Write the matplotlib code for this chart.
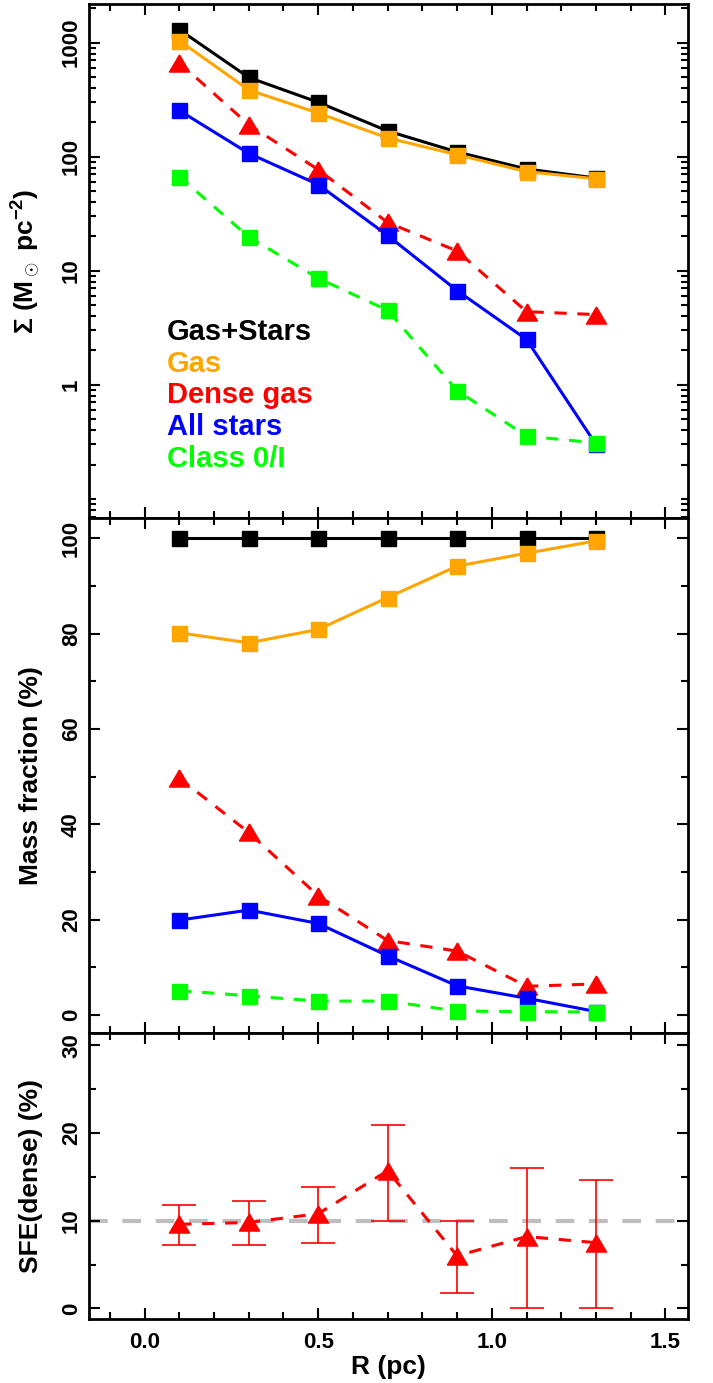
import numpy as np
import matplotlib
matplotlib.use("Agg")
import matplotlib.pyplot as plt
from matplotlib.ticker import FixedLocator, NullFormatter, FormatStrFormatter

# radial bins (pc)
radius = [0.1, 0.3, 0.5, 0.7, 0.9, 1.1, 1.3]

# surface densities (Msun pc^-2)
sig_total = [1300, 495, 300, 168, 110, 78, 65]
sig_gas = [1040, 385, 241, 146, 104, 74, 64]
sig_dense = [667, 191, 77, 26.5, 14.9, 4.38, 4.13]
sig_stars = [254, 107, 57, 20.4, 6.7, 2.5, 0.30]
sig_class01 = [67, 19.8, 8.6, 4.5, 0.89, 0.355, 0.31]

# mass fractions (%)
frac_total = [100, 100, 100, 100, 100, 100, 100]
frac_gas = [80.2, 78.1, 80.9, 87.6, 94.2, 96.9, 99.5]
frac_dense = [49.7, 38.3, 25.0, 15.6, 13.4, 6.0, 6.5]
frac_stars = [19.9, 22.0, 19.2, 12.4, 6.1, 3.5, 0.7]
frac_class01 = [5.1, 4.0, 2.9, 2.9, 0.8, 0.7, 0.6]

# dense gas star formation efficiency (%) with lower/upper bounds
sfe = [9.6, 9.8, 10.8, 15.7, 6.0, 8.2, 7.5]
sfe_low = [7.2, 7.2, 7.5, 10.0, 1.8, 0.0, 0.0]
sfe_high = [11.85, 12.2, 13.85, 20.95, 10.0, 16.0, 14.6]

series_names = ["Gas+Stars", "Gas", "Dense gas", "All stars", "Class 0/I"]
colors = ["black", "#FFA500", "#FF0000", "#0000FF", "#00FF00"]

plt.rcParams["font.family"] = ["Liberation Sans", "DejaVu Sans"]
plt.rcParams["font.weight"] = "bold"
plt.rcParams["axes.labelweight"] = "bold"
plt.rcParams["mathtext.fontset"] = "custom"
plt.rcParams["mathtext.rm"] = "Liberation Sans:bold"
plt.rcParams["mathtext.it"] = "Liberation Sans:bold"
plt.rcParams["mathtext.bf"] = "Liberation Sans:bold"

tri = [(0, 0.85), (-1, -0.85), (1, -0.85), (0, 0.85)]
sq_ms = 10.8
tri_ms = 14.5
lw = 2.2
dash = (4, 3.5)

fig = plt.figure(figsize=(7.13, 13.83), dpi=100)
left, width = 89 / 713, 599 / 713
H = 1383
ax1 = fig.add_axes([left, 1 - 518 / H, width, 514 / H])
ax2 = fig.add_axes([left, 1 - 1033 / H, width, 515 / H])
ax3 = fig.add_axes([left, 1 - 1319 / H, width, 286 / H])


def style(ax):
    ax.set_xlim(-0.16, 1.565)
    ax.xaxis.set_major_locator(FixedLocator([0.0, 0.5, 1.0, 1.5]))
    ax.xaxis.set_minor_locator(FixedLocator(np.arange(-0.1, 1.6, 0.1)))
    ax.tick_params(which="both", direction="in", top=True, right=True,
                   width=1.5, labelsize=16)
    ax.tick_params(which="major", length=8, pad=5)
    ax.tick_params(which="minor", length=5)
    ax.tick_params(axis="x", pad=9)
    for s in ax.spines.values():
        s.set_linewidth(2.0)


def rotate_yticks(ax):
    for lab in ax.get_yticklabels():
        lab.set_rotation(90)
        lab.set_va("center")


def draw_series(ax, data):
    for i, (vals, c) in enumerate(zip(data, colors)):
        if i == 2:
            ax.plot(radius, vals, color=c, lw=lw, dashes=dash,
                    marker=tri, ms=tri_ms, zorder=3 + i)
        elif i == 4:
            ax.plot(radius, vals, color=c, lw=lw, dashes=dash,
                    marker="s", ms=sq_ms, zorder=3 + i)
        else:
            ax.plot(radius, vals, color=c, lw=lw, marker="s", ms=sq_ms,
                    zorder=3 + i)


# top: surface density profiles
draw_series(ax1, [sig_total, sig_gas, sig_dense, sig_stars, sig_class01])
ax1.set_yscale("log")
ax1.set_ylim(0.068, 2180)
style(ax1)
ax1.yaxis.set_major_locator(FixedLocator([1, 10, 100, 1000]))
ax1.yaxis.set_major_formatter(FormatStrFormatter("%d"))
minor = [k * 10.0 ** e for e in range(-2, 4) for k in range(1, 10)
         if not (k == 1 and e >= 0)]
ax1.yaxis.set_minor_locator(FixedLocator(minor))
ax1.yaxis.set_minor_formatter(NullFormatter())
ax1.set_xticklabels([])
rotate_yticks(ax1)
ax1.set_ylabel(r"$\Sigma$ (M$_\odot$ pc$^{-2}$)", fontsize=19)
ax1.yaxis.set_label_coords(-0.077, 0.5)

for i, (name, c) in enumerate(zip(series_names, colors)):
    ax1.text(0.13, (518 - 340) / 514 - i * 31.7 / 514, name, color=c,
             fontsize=21, fontweight="bold", transform=ax1.transAxes,
             va="baseline", ha="left")

# middle: mass fractions
draw_series(ax2, [frac_total, frac_gas, frac_dense, frac_stars, frac_class01])
ax2.set_ylim(-3.8, 104.3)
style(ax2)
ax2.yaxis.set_major_locator(FixedLocator([0, 20, 40, 60, 80, 100]))
ax2.yaxis.set_minor_locator(FixedLocator([10, 30, 50, 70, 90]))
ax2.set_xticklabels([])
rotate_yticks(ax2)
ax2.set_ylabel("Mass fraction (%)", fontsize=19)
ax2.yaxis.set_label_coords(-0.077, 0.5)

# bottom: SFE of dense gas
ax3.axhline(10, color="#BEBEBE", lw=3, dashes=(4.5, 3.5), zorder=1)
yerr = [np.array(sfe) - np.array(sfe_low), np.array(sfe_high) - np.array(sfe)]
ax3.errorbar(radius, sfe, yerr=yerr, fmt="none", ecolor="#FF0000",
             elinewidth=1.2, capsize=12, capthick=1.2, zorder=2)
ax3.plot(radius, sfe, color="#FF0000", lw=lw, dashes=dash, marker=tri,
         ms=tri_ms, zorder=3)
ax3.set_ylim(-1.2, 31.4)
style(ax3)
ax3.yaxis.set_major_locator(FixedLocator([0, 10, 20, 30]))
ax3.yaxis.set_minor_locator(FixedLocator([5, 15, 25]))
ax3.xaxis.set_major_formatter(FormatStrFormatter("%.1f"))
rotate_yticks(ax3)
ax3.set_ylabel("SFE(dense) (%)", fontsize=19)
ax3.yaxis.set_label_coords(-0.077, 0.5)
ax3.set_xlabel("R (pc)", fontsize=19, labelpad=2)

fig.savefig("out.png", dpi=100)
